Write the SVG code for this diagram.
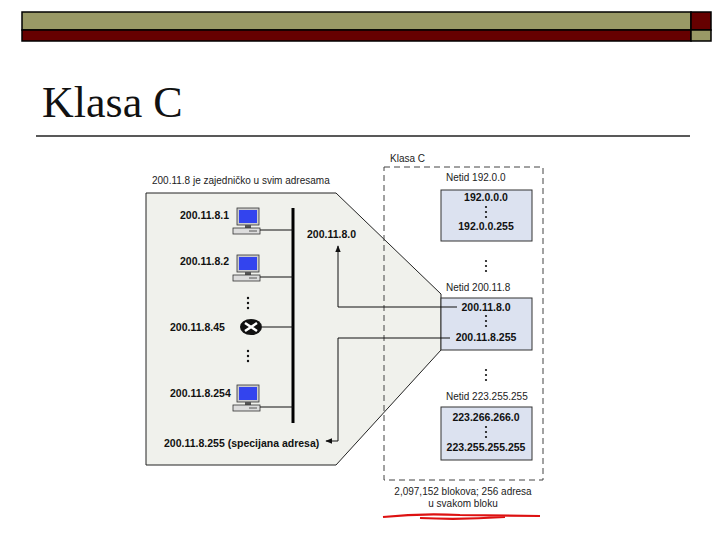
<svg xmlns="http://www.w3.org/2000/svg" width="720" height="540" viewBox="0 0 720 540">
<style>
.t{font-family:"Liberation Sans",Arial,sans-serif;font-size:10px;fill:#222}
.b{font-family:"Liberation Sans",Arial,sans-serif;font-size:10.5px;font-weight:bold;fill:#111}
.box{fill:#dce2f0;stroke:#333;stroke-width:1}
.ln{stroke:#111;stroke-width:1;fill:none}
.dot{fill:#111}
</style>
<defs>
<marker id="ah" viewBox="0 0 10 10" refX="9" refY="5" markerWidth="7" markerHeight="7" orient="auto"><path d="M0,1 L10,5 L0,9 z" fill="#111"/></marker>
<g id="pc">
<rect x="4" y="0" width="22" height="17" fill="#ccc" stroke="#333" stroke-width="0.8"/>
<rect x="6" y="2" width="18" height="13" fill="#3344ee"/>
<rect x="12" y="17" width="6" height="3" fill="#555"/>
<rect x="0" y="20" width="27" height="6" fill="#ddd" stroke="#333" stroke-width="0.8"/>
<line x1="16" y1="23" x2="24" y2="23" stroke="#333" stroke-width="0.8"/>
</g>
</defs>
<rect width="720" height="540" fill="#fff"/>
<g id="header">
<rect x="22" y="12" width="669" height="18" fill="#999966" stroke="#000" stroke-width="1.5"/>
<rect x="22" y="30" width="669" height="11" fill="#660000" stroke="#000" stroke-width="1.5"/>
<rect x="691" y="12" width="20" height="18" fill="#660000" stroke="#000" stroke-width="1.5"/>
<rect x="691" y="30" width="20" height="11" fill="#999966" stroke="#000" stroke-width="1.5"/>
</g>
<text x="42" y="117" font-family="Liberation Serif,serif" font-size="44" fill="#111">Klasa C</text>
<line x1="36" y1="136" x2="690" y2="136" stroke="#222" stroke-width="1.5"/>

<g id="panel">
<polygon points="146,193 336,193 441,294 441,350 336,465 146,465" fill="#f0f1ec" stroke="#222" stroke-width="1"/>
<text class="t" x="152" y="184">200.11.8 je zajedničko u svim adresama</text>
</g>
<g id="hosts">
<line x1="293" y1="208" x2="293" y2="423" stroke="#000" stroke-width="3"/>
<use href="#pc" x="233" y="208"/><line class="ln" x1="260" y1="230" x2="293" y2="230"/>
<text class="b" x="180" y="219">200.11.8.1</text>
<use href="#pc" x="233" y="255"/><line class="ln" x1="260" y1="277" x2="293" y2="277"/>
<text class="b" x="180" y="265">200.11.8.2</text>
<circle class="dot" cx="248" cy="298" r="1.2"/><circle class="dot" cx="248" cy="303" r="1.2"/><circle class="dot" cx="248" cy="308" r="1.2"/>
<ellipse cx="251" cy="327" rx="11" ry="8" fill="#111"/>
<path d="M245,323 L257,331 M257,323 L245,331" stroke="#fff" stroke-width="2.5"/>
<line class="ln" x1="262" y1="327" x2="293" y2="327"/>
<text class="b" x="170" y="331">200.11.8.45</text>
<circle class="dot" cx="248" cy="351" r="1.2"/><circle class="dot" cx="248" cy="356" r="1.2"/><circle class="dot" cx="248" cy="361" r="1.2"/>
<use href="#pc" x="233" y="385"/><line class="ln" x1="260" y1="407" x2="293" y2="407"/>
<text class="b" x="170" y="397">200.11.8.254</text>
<text class="b" x="307" y="238">200.11.8.0</text>
<text class="b" x="164" y="447">200.11.8.255 (specijana adresa)</text>
</g>
<g id="klasa">
<rect x="384" y="167" width="159" height="313" fill="none" stroke="#444" stroke-width="1" stroke-dasharray="6,4"/>
<text class="t" x="390" y="162">Klasa C</text>
<text class="t" x="446" y="181">Netid 192.0.0</text>
<rect class="box" x="441" y="190" width="91" height="51"/>
<text class="b" x="486" y="201" text-anchor="middle">192.0.0.0</text>
<circle class="dot" cx="486" cy="207" r="1.1"/><circle class="dot" cx="486" cy="212" r="1.1"/><circle class="dot" cx="486" cy="217" r="1.1"/>
<text class="b" x="486" y="230" text-anchor="middle">192.0.0.255</text>
<circle class="dot" cx="486" cy="261" r="1.1"/><circle class="dot" cx="486" cy="266" r="1.1"/><circle class="dot" cx="486" cy="271" r="1.1"/>
<text class="t" x="446" y="291">Netid 200.11.8</text>
<rect class="box" x="441" y="298" width="91" height="52"/>
<text class="b" x="486" y="311" text-anchor="middle">200.11.8.0</text>
<circle class="dot" cx="486" cy="316" r="1.1"/><circle class="dot" cx="486" cy="321" r="1.1"/><circle class="dot" cx="486" cy="326" r="1.1"/>
<text class="b" x="486" y="341" text-anchor="middle">200.11.8.255</text>
<circle class="dot" cx="486" cy="370" r="1.1"/><circle class="dot" cx="486" cy="375" r="1.1"/><circle class="dot" cx="486" cy="380" r="1.1"/>
<text class="t" x="446" y="400">Netid 223.255.255</text>
<rect class="box" x="441" y="407" width="91" height="53"/>
<text class="b" x="486" y="421" text-anchor="middle">223.266.266.0</text>
<circle class="dot" cx="486" cy="427" r="1.1"/><circle class="dot" cx="486" cy="432" r="1.1"/><circle class="dot" cx="486" cy="437" r="1.1"/>
<text class="b" x="486" y="451" text-anchor="middle">223.255.255.255</text>
<text class="t" x="463" y="495" text-anchor="middle">2,097,152 blokova; 256 adresa</text>
<text class="t" x="463" y="507" text-anchor="middle">u svakom bloku</text>
<path d="M383,517 Q420,513 460,515 L540,516 M420,518 Q460,520 505,517" stroke="#dd1111" stroke-width="2.2" fill="none"/>
</g>
<g id="connectors">
<polyline class="ln" points="457,307 338,307 338,246" marker-end="url(#ah)"/>
<polyline class="ln" points="450,338 338,338 338,441 326,441" marker-end="url(#ah)"/>
</g>
</svg>
